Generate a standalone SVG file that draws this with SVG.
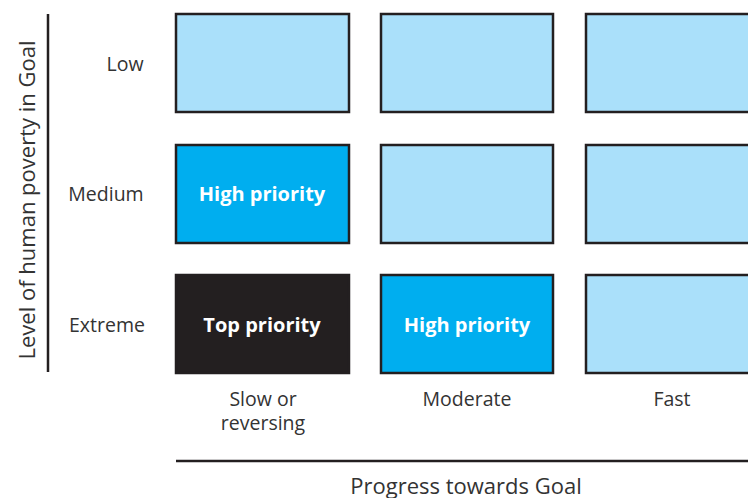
<svg xmlns="http://www.w3.org/2000/svg" width="748" height="498" viewBox="0 0 748 498">
<style>
.lbl{font-family:"Open Sans","Noto Sans",sans-serif;font-size:19.5px;fill:#333;text-anchor:middle}
.big{font-size:22px}
.in{font-family:"Open Sans","Noto Sans",sans-serif;font-size:20px;font-weight:bold;fill:#fff;text-anchor:middle}
.lo{fill:#aae0fa;stroke:#231f20;stroke-width:2.5}
.hi{fill:#00aeef;stroke:#231f20;stroke-width:2.5}
.top{fill:#231f20;stroke:#231f20;stroke-width:2.5}
.ax{stroke:#231f20;stroke-width:2.5;fill:none}
</style>
<g id="axes">
<line class="ax" x1="48" y1="14" x2="48" y2="372"/>
<line class="ax" x1="176" y1="461" x2="748" y2="461"/>
<text class="lbl big" transform="translate(35,200) rotate(-90)">Level of human poverty in Goal</text>
<text class="lbl big" x="466" y="494">Progress towards Goal</text>
</g>
<g id="row-labels">
<text class="lbl" x="125" y="71">Low</text>
<text class="lbl" x="106" y="201">Medium</text>
<text class="lbl" x="107" y="332">Extreme</text>
</g>
<g id="col-labels">
<text class="lbl" x="263" y="406">Slow or</text>
<text class="lbl" x="263" y="430">reversing</text>
<text class="lbl" x="467" y="406">Moderate</text>
<text class="lbl" x="672" y="406">Fast</text>
</g>
<g id="r1c1"><rect class="lo" x="176" y="14" width="173" height="98"/></g>
<g id="r1c2"><rect class="lo" x="381" y="14" width="172" height="98"/></g>
<g id="r1c3"><rect class="lo" x="586" y="14" width="170" height="98"/></g>
<g id="r2c1"><rect class="hi" x="176" y="145" width="173" height="98"/><text class="in" x="262" y="201">High priority</text></g>
<g id="r2c2"><rect class="lo" x="381" y="145" width="172" height="98"/></g>
<g id="r2c3"><rect class="lo" x="586" y="145" width="170" height="98"/></g>
<g id="r3c1"><rect class="top" x="176" y="275" width="173" height="98"/><text class="in" x="262" y="332">Top priority</text></g>
<g id="r3c2"><rect class="hi" x="381" y="275" width="172" height="98"/><text class="in" x="467" y="332">High priority</text></g>
<g id="r3c3"><rect class="lo" x="586" y="275" width="170" height="98"/></g>
</svg>
